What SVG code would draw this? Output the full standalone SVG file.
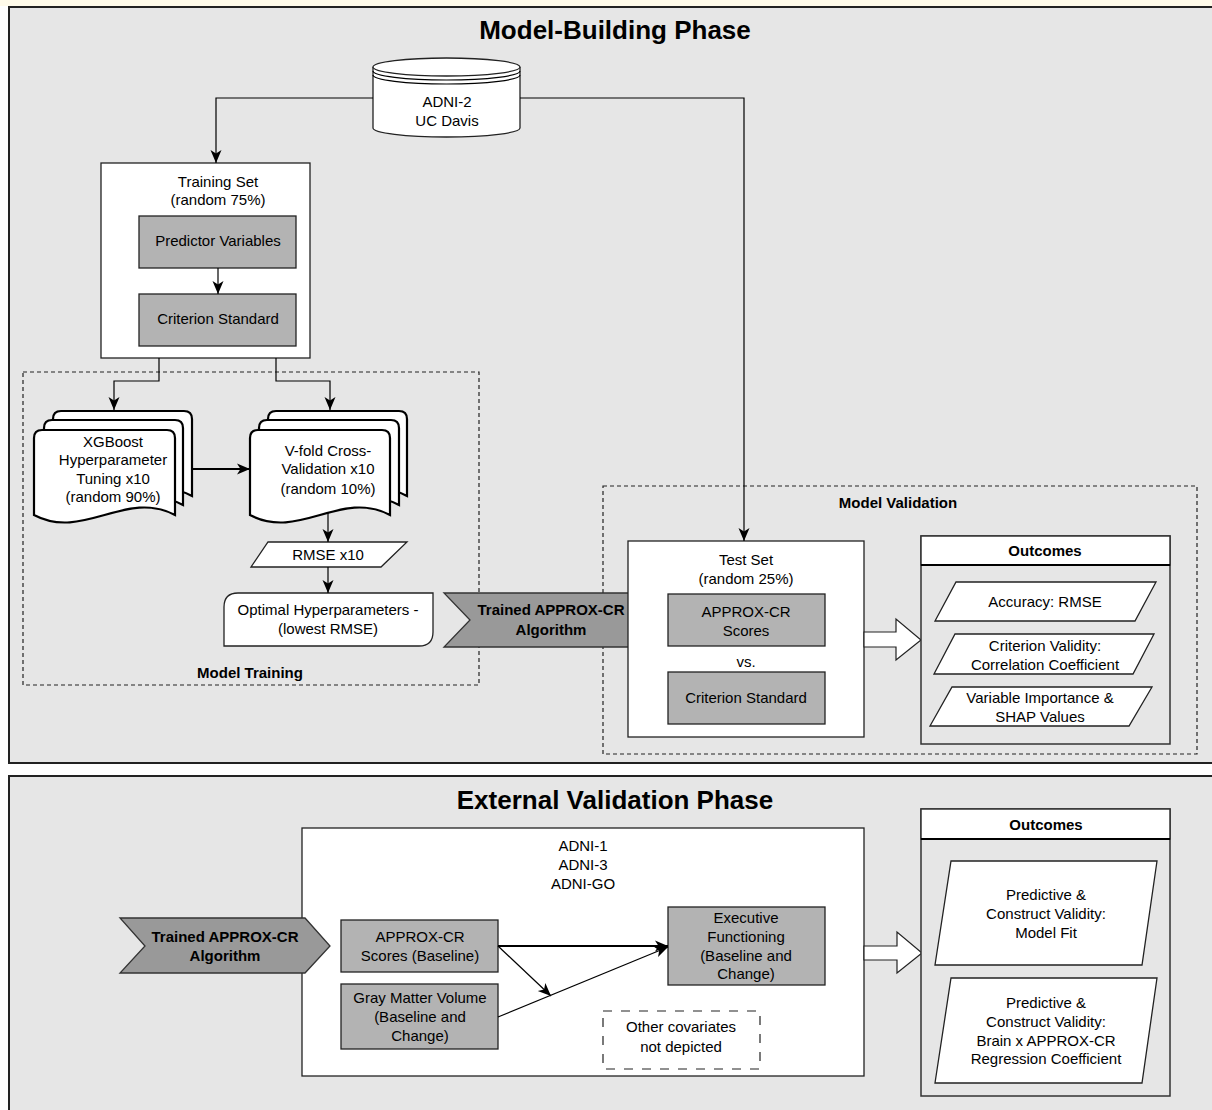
<svg xmlns="http://www.w3.org/2000/svg" width="1212" height="1110" viewBox="0 0 1212 1110">
<style>
.panel{fill:#e6e6e6;stroke:#222;stroke-width:2}
.box{fill:#fff;stroke:#222;stroke-width:1.3}
.gbox{fill:#b3b3b3;stroke:#222;stroke-width:1.3}
.dash{fill:none;stroke:#222;stroke-width:1.2;stroke-dasharray:4 3}
.doc{fill:#fff;stroke:#000;stroke-width:2.2}
.chev{fill:#999;stroke:#333;stroke-width:1.3}
.hollow{fill:#fff;stroke:#222;stroke-width:1.2}
.t{font-family:"Liberation Sans",Arial,sans-serif;font-size:15px;text-anchor:middle;fill:#000}
.b{font-weight:bold}
.title{font-size:26px;font-weight:bold}
.conn{fill:none;stroke:#000;stroke-width:1.2}
.thick{stroke-width:2.2}
</style>
<defs>
<marker id="arr" markerUnits="userSpaceOnUse" markerWidth="14" markerHeight="14" viewBox="0 0 14 14" refX="13" refY="7" orient="auto">
<path d="M0,1.5 L13,7 L0,12.5 L3.5,7 Z" fill="#000"/>
</marker>
</defs>
<rect x="0" y="0" width="1212" height="1110" fill="#fff"/>
<rect x="0" y="0" width="1212" height="6" fill="#fffbea"/>

<g id="panel-model-building">
<rect class="panel" x="9" y="7" width="1215" height="756"/>
<text class="t title" x="615" y="39">Model-Building Phase</text>
</g>
<g id="panel-external">
<rect class="panel" x="9" y="776" width="1215" height="345"/>
<text class="t title" x="615" y="809">External Validation Phase</text>
</g>

<g id="model-training-group">
<rect class="dash" x="23" y="372" width="456" height="313"/>
<text class="t b" x="250" y="678">Model Training</text>
</g>
<g id="model-validation-group">
<rect class="dash" x="603" y="486" width="594" height="268"/>
<text class="t b" x="898" y="508">Model Validation</text>
</g>

<g id="adni2">
<path class="box" d="M373,67 V128 A73.5,9 0 0 0 520,128 V67"/>
<ellipse class="box" cx="446.5" cy="67" rx="73.5" ry="9"/>
<path class="conn" d="M373,71 A73.5,9 0 0 0 520,71 M373,75 A73.5,9 0 0 0 520,75"/>
<text class="t" x="447" y="107">ADNI-2</text>
<text class="t" x="447" y="126">UC Davis</text>
</g>

<g id="training-set">
<rect class="box" x="101" y="163" width="209" height="195"/>
<text class="t" x="218" y="187">Training Set</text>
<text class="t" x="218" y="205">(random 75%)</text>
</g>
<g id="predictor-variables">
<rect class="gbox" x="139" y="216" width="157" height="52"/>
<text class="t" x="218" y="246">Predictor Variables</text>
</g>
<g id="criterion-standard-1">
<rect class="gbox" x="139" y="294" width="157" height="52"/>
<text class="t" x="218" y="324">Criterion Standard</text>
</g>

<g id="xgboost">
<path class="doc" d="M53,496 V419 Q53,411 61,411 H184 Q192,411 192,419 V496 C143,470 102,522 53,496 Z"/>
<path class="doc" d="M44,505 V428 Q44,420 52,420 H175 Q183,420 183,428 V505 C134,479 93,531 44,505 Z"/>
<path class="doc" d="M34,515 V438 Q34,430 42,430 H167 Q175,430 175,438 V515 C126,489 83,541 34,515 Z"/>
<text class="t" x="113" y="447">XGBoost</text>
<text class="t" x="113" y="465">Hyperparameter</text>
<text class="t" x="113" y="484">Tuning x10</text>
<text class="t" x="113" y="502">(random 90%)</text>
</g>

<g id="vfold">
<path class="doc" d="M268,496 V419 Q268,411 276,411 H399 Q407,411 407,419 V496 C358,470 317,522 268,496 Z"/>
<path class="doc" d="M259,505 V428 Q259,420 267,420 H391 Q399,420 399,428 V505 C350,479 308,531 259,505 Z"/>
<path class="doc" d="M250,515 V438 Q250,430 258,430 H382 Q390,430 390,438 V515 C341,489 299,541 250,515 Z"/>
<text class="t" x="328" y="456">V-fold Cross-</text>
<text class="t" x="328" y="474">Validation x10</text>
<text class="t" x="328" y="494">(random 10%)</text>
</g>

<g id="rmse">
<polygon class="box" points="268,542 407,542 381,567 251,567"/>
<text class="t" x="328" y="560">RMSE x10</text>
</g>

<g id="optimal">
<path class="box" d="M238,593 H433 V632 Q433,646 419,646 H224 V607 Q224,593 238,593 Z"/>
<text class="t" x="328" y="615">Optimal Hyperparameters -</text>
<text class="t" x="328" y="634">(lowest RMSE)</text>
</g>

<g id="trained-top">
<polygon class="chev" points="444,593 630,593 656,620 630,647 444,647 470,620"/>
<text class="t b" x="551" y="615">Trained APPROX-CR</text>
<text class="t b" x="551" y="635">Algorithm</text>
</g>

<g id="test-set">
<rect class="box" x="628" y="541" width="236" height="196"/>
<text class="t" x="746" y="565">Test Set</text>
<text class="t" x="746" y="584">(random 25%)</text>
<rect class="gbox" x="668" y="594" width="157" height="52"/>
<text class="t" x="746" y="617">APPROX-CR</text>
<text class="t" x="746" y="636">Scores</text>
<text class="t" x="746" y="667">vs.</text>
<rect class="gbox" x="668" y="672" width="157" height="52"/>
<text class="t" x="746" y="703">Criterion Standard</text>
</g>

<g id="hollow-arrow-top">
<polygon class="hollow" points="864,632 896,632 896,619 921,640 896,660 896,647 864,647"/>
</g>

<g id="outcomes-top">
<rect x="921" y="536" width="249" height="208" fill="#e6e6e6" stroke="#333" stroke-width="1.5"/>
<rect x="921" y="536" width="249" height="29" fill="#fff" stroke="#333" stroke-width="1.5"/>
<line x1="921" y1="565" x2="1170" y2="565" stroke="#000" stroke-width="2"/>
<text class="t b" x="1045" y="556">Outcomes</text>
<polygon class="box" points="956,582 1156,582 1135,621 935,621"/>
<text class="t" x="1045" y="607">Accuracy: RMSE</text>
<polygon class="box" points="955,634 1154,634 1133,674 934,674"/>
<text class="t" x="1045" y="651">Criterion Validity:</text>
<text class="t" x="1045" y="670">Correlation Coefficient</text>
<polygon class="box" points="952,687 1152,687 1129,726 930,726"/>
<text class="t" x="1040" y="703">Variable Importance &amp;</text>
<text class="t" x="1040" y="722">SHAP Values</text>
</g>

<g id="adni-external">
<rect class="box" x="302" y="828" width="562" height="248"/>
<text class="t" x="583" y="851">ADNI-1</text>
<text class="t" x="583" y="870">ADNI-3</text>
<text class="t" x="583" y="889">ADNI-GO</text>
</g>

<g id="trained-bottom">
<polygon class="chev" points="120,918 305,918 330,946 305,973 120,973 145,946"/>
<text class="t b" x="225" y="942">Trained APPROX-CR</text>
<text class="t b" x="225" y="961">Algorithm</text>
</g>

<g id="approx-baseline">
<rect class="gbox" x="341" y="920" width="157" height="52"/>
<text class="t" x="420" y="942">APPROX-CR</text>
<text class="t" x="420" y="961">Scores (Baseline)</text>
</g>
<g id="gray-matter">
<rect class="gbox" x="341" y="984" width="157" height="65"/>
<text class="t" x="420" y="1003">Gray Matter Volume</text>
<text class="t" x="420" y="1022">(Baseline and</text>
<text class="t" x="420" y="1041">Change)</text>
</g>
<g id="executive">
<rect class="gbox" x="668" y="907" width="157" height="78"/>
<text class="t" x="746" y="923">Executive</text>
<text class="t" x="746" y="942">Functioning</text>
<text class="t" x="746" y="961">(Baseline and</text>
<text class="t" x="746" y="979">Change)</text>
</g>
<g id="covariates">
<rect x="603" y="1011" width="157" height="58" fill="none" stroke="#222" stroke-width="1.2" stroke-dasharray="9 9"/>
<text class="t" x="681" y="1032">Other covariates</text>
<text class="t" x="681" y="1052">not depicted</text>
</g>

<g id="hollow-arrow-bottom">
<polygon class="hollow" points="864,946 897,946 897,932 922,953 897,973 897,960 864,960"/>
</g>

<g id="outcomes-bottom">
<rect x="921" y="809" width="249" height="287" fill="#e6e6e6" stroke="#333" stroke-width="1.5"/>
<rect x="921" y="809" width="249" height="30" fill="#fff" stroke="#333" stroke-width="1.5"/>
<line x1="921" y1="839" x2="1170" y2="839" stroke="#000" stroke-width="2"/>
<text class="t b" x="1046" y="830">Outcomes</text>
<polygon class="box" points="951,861 1157,861 1142,965 935,965"/>
<text class="t" x="1046" y="900">Predictive &amp;</text>
<text class="t" x="1046" y="919">Construct Validity:</text>
<text class="t" x="1046" y="938">Model Fit</text>
<polygon class="box" points="951,978 1157,978 1142,1083 935,1083"/>
<text class="t" x="1046" y="1008">Predictive &amp;</text>
<text class="t" x="1046" y="1027">Construct Validity:</text>
<text class="t" x="1046" y="1046">Brain x APPROX-CR</text>
<text class="t" x="1046" y="1064">Regression Coefficient</text>
</g>

<g id="connectors">
<path class="conn" d="M373,98 H216 V163" marker-end="url(#arr)"/>
<path class="conn" d="M520,98 H744 V541" marker-end="url(#arr)"/>
<path class="conn" d="M218,268 V294" marker-end="url(#arr)"/>
<path class="conn" d="M159,358 V381 H114 V410" marker-end="url(#arr)"/>
<path class="conn" d="M276,358 V381 H330 V410" marker-end="url(#arr)"/>
<path class="conn thick" d="M192,469 H250" marker-end="url(#arr)"/>
<path class="conn" d="M328,513 V542" marker-end="url(#arr)"/>
<path class="conn" d="M328,567 V593" marker-end="url(#arr)"/>
<path class="conn thick" d="M498,946 H668" marker-end="url(#arr)"/>
<path class="conn" d="M498,1017 L668,947" marker-end="url(#arr)"/>
<path class="conn" d="M498,946 L551,996" marker-end="url(#arr)"/>
</g>
</svg>
